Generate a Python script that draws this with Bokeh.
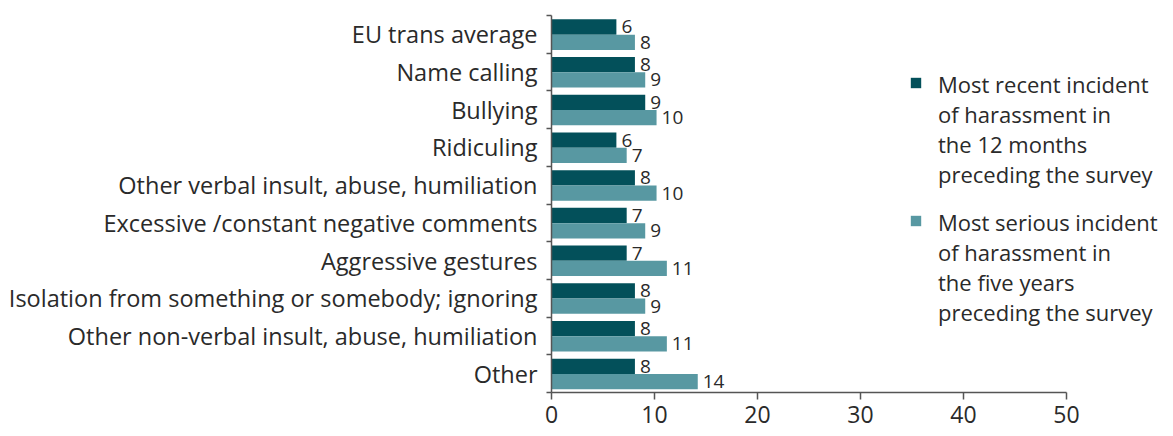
from bokeh.plotting import figure
from bokeh.models import (ColumnDataSource, Range1d, FixedTicker, Legend, LegendItem)
from bokeh.transform import dodge
from bokeh.core.properties import value
from bokeh.embed import file_html
from bokeh.resources import INLINE

categories = [
    "EU trans average",
    "Name calling",
    "Bullying",
    "Ridiculing",
    "Other verbal insult, abuse, humiliation",
    "Excessive /constant negative comments",
    "Aggressive gestures",
    "Isolation from something or somebody; ignoring",
    "Other non-verbal insult, abuse, humiliation",
    "Other",
]
recent_12m = [6.3, 8.1, 9.1, 6.3, 8.1, 7.3, 7.3, 8.1, 8.1, 8.1]
serious_5y = [8.1, 9.1, 10.2, 7.3, 10.2, 9.1, 11.2, 9.1, 11.2, 14.2]
series_names = [
    "Most recent incident\nof harassment in\nthe 12 months\npreceding the survey",
    "Most serious incident\nof harassment in\nthe five years\npreceding the survey",
]
x_ticks = [0, 10, 20, 30, 40, 50]

FONT = "Open Sans"
DARK = "#03505A"
LIGHT = "#5898A2"
TEXT = "#2a2a2a"
AXIS = "#555555"

pos = list(range(len(categories)))
src = ColumnDataSource(dict(
    y=pos,
    recent=recent_12m,
    serious=serious_5y,
    recent_lbl=[f"{round(v):d}" for v in recent_12m],
    serious_lbl=[f"{round(v):d}" for v in serious_5y],
))

p = figure(width=1173, height=436, output_backend="svg", toolbar_location=None,
           x_range=Range1d(0, 60.39), y_range=Range1d(len(categories) - 0.5, -0.5),
           min_border_left=551, min_border_right=0, min_border_top=15, min_border_bottom=44)
p.outline_line_color = None
p.xgrid.visible = False
p.ygrid.visible = False
p.background_fill_color = "white"
p.border_fill_color = "white"

bh = 0.405
r1 = p.hbar(y=dodge("y", -0.195), right="recent", left=0, height=bh, source=src,
            fill_color=DARK, line_color=None)
r2 = p.hbar(y=dodge("y", 0.21), right="serious", left=0, height=bh, source=src,
            fill_color=LIGHT, line_color=None)
# invisible renderer used only to carry the legend texts
blank = p.hbar(y=[], right=[], left=0, height=bh, fill_alpha=0, line_alpha=0)

p.text(x="recent", y=dodge("y", -0.195), text="recent_lbl", source=src, x_offset=5,
       text_baseline="middle", text_align="left", text_font=value(FONT),
       text_font_size="19px", text_color=TEXT)
p.text(x="serious", y=dodge("y", 0.21), text="serious_lbl", source=src, x_offset=5,
       text_baseline="middle", text_align="left", text_font=value(FONT),
       text_font_size="19px", text_color=TEXT)

# x axis
xa = p.xaxis[0]
xa.ticker = FixedTicker(ticks=x_ticks, minor_ticks=[])
xa.bounds = (0, 50)
xa.axis_line_color = AXIS
xa.axis_line_width = 1.5
xa.major_tick_line_color = AXIS
xa.major_tick_line_width = 1.5
xa.major_tick_out = 7
xa.major_tick_in = 0
xa.minor_tick_line_color = None
xa.major_label_standoff = 6
xa.major_label_text_font = FONT
xa.major_label_text_font_size = "23px"
xa.major_label_text_color = TEXT

# y axis: labels at centres, ticks at category boundaries
ya = p.yaxis[0]
ya.ticker = FixedTicker(ticks=pos, minor_ticks=[i - 0.5 for i in range(len(categories) + 1)])
ya.major_label_overrides = {i: c for i, c in enumerate(categories)}
ya.axis_line_color = AXIS
ya.axis_line_width = 1.5
ya.major_tick_line_color = None
ya.major_tick_out = 0
ya.major_tick_in = 0
ya.minor_tick_line_color = AXIS
ya.minor_tick_line_width = 1.5
ya.minor_tick_out = 5
ya.minor_tick_in = 0
ya.major_label_standoff = 9
ya.major_label_text_font = FONT
ya.major_label_text_font_size = "23.5px"
ya.major_label_text_color = TEXT

LEG_FS = 22
LINE_PITCH = 1.374 * LEG_FS       # line advance of Bokeh's multi-line legend labels
BLOCK_H = 5.32 * LEG_FS           # approximate height of a 4-line legend label


def style(lg):
    lg.border_line_color = None
    lg.background_fill_alpha = 0
    lg.padding = 0
    lg.margin = 0
    lg.spacing = 0
    lg.glyph_width = 13
    lg.glyph_height = 13
    lg.label_height = 13
    lg.label_standoff = 16
    lg.label_text_font = FONT
    lg.label_text_font_size = f"{LEG_FS}px"
    lg.label_text_color = TEXT
    lg.label_text_baseline = "middle"
    p.add_layout(lg, "center")


for name, rend, block_center in ((series_names[0], r1, 130.0), (series_names[1], r2, 268.0)):
    first_line = block_center - 1.5 * LINE_PITCH
    # coloured square, aligned with the first text line
    style(Legend(items=[LegendItem(label="", renderers=[rend])],
                 location=(358, 392 - (first_line + 4.5))))
    # the multi-line series name
    style(Legend(items=[LegendItem(label=name, renderers=[blank])],
                 location=(358, 392 - (block_center + BLOCK_H / 2))))

open("out.html", "w").write(file_html(p, INLINE))
